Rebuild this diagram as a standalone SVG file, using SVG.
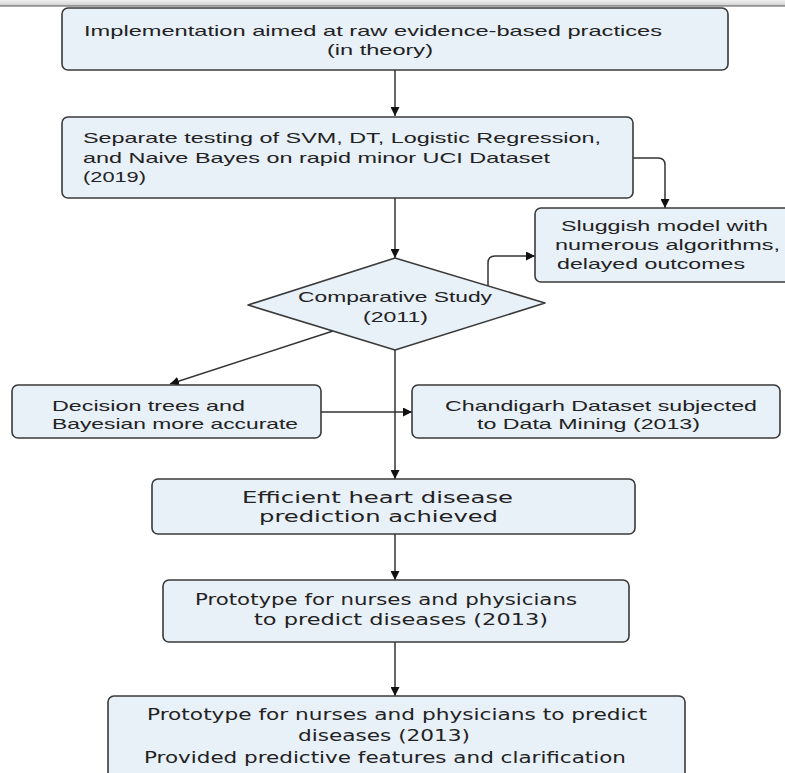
<svg xmlns="http://www.w3.org/2000/svg" width="785" height="773" viewBox="0 0 785 773">
<defs>
<linearGradient id="bar" x1="0" y1="0" x2="0" y2="1">
<stop offset="0" stop-color="#f0f0f0"/>
<stop offset="1" stop-color="#cfcfcf"/>
</linearGradient>
<marker id="ah" viewBox="0 0 10 10" refX="10" refY="5" markerWidth="9" markerHeight="9" markerUnits="userSpaceOnUse" orient="auto">
<path d="M0,0 L10,5 L0,10 z" fill="#111"/>
</marker>
<style>
.box{fill:#e8f0f8;stroke:#3a3a3a;stroke-width:1.6}
.t{font-family:"Liberation Sans",Arial,sans-serif;font-size:15px;fill:#222}
.v{font-family:"DejaVu Sans",Verdana,sans-serif;font-size:15px;fill:#222}
.c{fill:none;stroke:#333;stroke-width:1.5}
</style>
</defs>
<rect x="0" y="0" width="785" height="6" fill="url(#bar)"/>
<line x1="0" y1="6" x2="785" y2="6" stroke="#555" stroke-width="1"/>

<g id="connectors">
<path class="c" d="M395,70 L395,116" marker-end="url(#ah)"/>
<path class="c" d="M395,198 L395,258" marker-end="url(#ah)"/>
<path class="c" d="M633,158 L658,158 Q665,158 665,165 L665,208" marker-end="url(#ah)"/>
<path class="c" d="M488,286 L488,263 Q488,256 495,256 L535,256" marker-end="url(#ah)"/>
<path class="c" d="M333,331 L170,384" marker-end="url(#ah)"/>
<path class="c" d="M321,412 L412,412" marker-end="url(#ah)"/>
<path class="c" d="M395,350 L395,479" marker-end="url(#ah)"/>
<path class="c" d="M395,534 L395,580" marker-end="url(#ah)"/>
<path class="c" d="M395,642 L395,696" marker-end="url(#ah)"/>
</g>

<g id="n1">
<rect class="box" x="62" y="8" width="666" height="62" rx="6"/>
<text class="t" x="84" y="36" textLength="578" lengthAdjust="spacingAndGlyphs">Implementation aimed at raw evidence-based practices</text>
<text class="t" x="327" y="55" textLength="106" lengthAdjust="spacingAndGlyphs">(in theory)</text>
</g>

<g id="n2">
<rect class="box" x="62" y="117" width="571" height="81" rx="6"/>
<text class="t" x="83" y="143" textLength="518" lengthAdjust="spacingAndGlyphs">Separate testing of SVM, DT, Logistic Regression,</text>
<text class="t" x="83" y="163" textLength="467" lengthAdjust="spacingAndGlyphs">and Naive Bayes on rapid minor UCI Dataset</text>
<text class="t" x="83" y="182" textLength="63" lengthAdjust="spacingAndGlyphs">(2019)</text>
</g>

<g id="n3">
<rect class="box" x="535" y="208" width="270" height="74" rx="6"/>
<text class="t" x="561" y="231" textLength="207" lengthAdjust="spacingAndGlyphs">Sluggish model with</text>
<text class="t" x="555" y="250" textLength="225" lengthAdjust="spacingAndGlyphs">numerous algorithms,</text>
<text class="t" x="557" y="269" textLength="188" lengthAdjust="spacingAndGlyphs">delayed outcomes</text>
</g>

<g id="n4">
<polygon class="box" points="395,258 545,303 395,350 248,305" stroke-linejoin="round"/>
<text class="t" x="298" y="302" textLength="194" lengthAdjust="spacingAndGlyphs">Comparative Study</text>
<text class="t" x="363" y="322" textLength="65" lengthAdjust="spacingAndGlyphs">(2011)</text>
</g>

<g id="n5">
<rect class="box" x="12" y="385" width="309" height="53" rx="6"/>
<text class="t" x="52" y="411" textLength="193" lengthAdjust="spacingAndGlyphs">Decision trees and</text>
<text class="t" x="52" y="429" textLength="246" lengthAdjust="spacingAndGlyphs">Bayesian more accurate</text>
</g>

<g id="n6">
<rect class="box" x="412" y="385" width="368" height="53" rx="6"/>
<text class="t" x="445" y="411" textLength="312" lengthAdjust="spacingAndGlyphs">Chandigarh Dataset subjected</text>
<text class="t" x="477" y="429" textLength="223" lengthAdjust="spacingAndGlyphs">to Data Mining (2013)</text>
</g>

<g id="n7">
<rect class="box" x="152" y="479" width="483" height="55" rx="6"/>
<text class="v" x="242" y="503" textLength="271" lengthAdjust="spacingAndGlyphs">Efficient heart disease</text>
<text class="v" x="259" y="522" textLength="239" lengthAdjust="spacingAndGlyphs">prediction achieved</text>
</g>

<g id="n8">
<rect class="box" x="163" y="580" width="466" height="62" rx="6"/>
<text class="v" x="195" y="605" textLength="382" lengthAdjust="spacingAndGlyphs">Prototype for nurses and physicians</text>
<text class="v" x="254" y="625" textLength="294" lengthAdjust="spacingAndGlyphs">to predict diseases (2013)</text>
</g>

<g id="n9">
<rect class="box" x="108" y="696" width="577" height="100" rx="6"/>
<text class="v" x="147" y="720" textLength="500" lengthAdjust="spacingAndGlyphs">Prototype for nurses and physicians to predict</text>
<text class="v" x="298" y="741" textLength="172" lengthAdjust="spacingAndGlyphs">diseases (2013)</text>
<text class="v" x="144" y="763" textLength="482" lengthAdjust="spacingAndGlyphs">Provided predictive features and clarification</text>
</g>
</svg>
